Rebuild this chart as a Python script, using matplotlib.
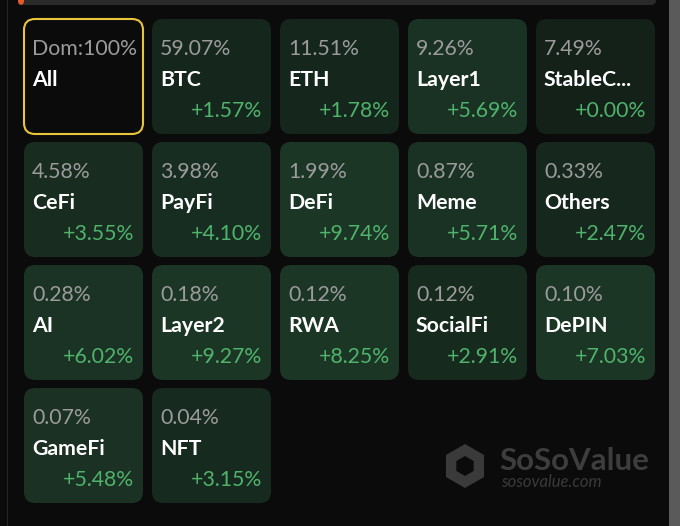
import matplotlib.pyplot as plt
from matplotlib.patches import FancyBboxPatch, Rectangle, RegularPolygon
import numpy as np

# sector dominance tiles
names = ["All", "BTC", "ETH", "Layer1", "StableC...",
         "CeFi", "PayFi", "DeFi", "Meme", "Others",
         "AI", "Layer2", "RWA", "SocialFi", "DePIN",
         "GameFi", "NFT"]
dominance = [100, 59.07, 11.51, 9.26, 7.49,
             4.58, 3.98, 1.99, 0.87, 0.33,
             0.28, 0.18, 0.12, 0.12, 0.10,
             0.07, 0.04]
changes = [None, 1.57, 1.78, 5.69, 0.00,
           3.55, 4.10, 9.74, 5.71, 2.47,
           6.02, 9.27, 8.25, 2.91, 7.03,
           5.48, 3.15]

plt.rcParams['font.family'] = ['Lato', 'DejaVu Sans']

BG = "#0b0b0b"
fig = plt.figure(figsize=(6.8, 5.26), dpi=100, facecolor=BG)
ax = fig.add_axes([0, 0, 1, 1])
ax.set_xlim(0, 680)
ax.set_ylim(526, 0)
ax.axis("off")
ax.set_facecolor(BG)

# frame bits around the panel
ax.add_patch(Rectangle((7, 0), 1.2, 526, color="#262626", lw=0))
ax.add_patch(Rectangle((669, 0), 11, 526, color="#5a5a5a", lw=0))
ax.add_patch(FancyBboxPatch((18, -10), 638, 15, boxstyle="round,pad=0,rounding_size=5",
                            fc="#2a2a2a", ec="none"))
ax.add_patch(FancyBboxPatch((18, -10), 6, 15, boxstyle="round,pad=0,rounding_size=4",
                            fc="#e8572a", ec="none"))

lo = np.array([0x13, 0x21, 0x19]) / 255
hi = np.array([0x1c, 0x36, 0x26]) / 255

x0, y0 = 24, 19
pitch_x, pitch_y = 128, 123
w, h = 119, 115
fs = 15.3

for i, name in enumerate(names):
    r, c = divmod(i, 5)
    left = x0 + c * pitch_x
    top = y0 + r * pitch_y
    chg = changes[i]
    if chg is None:
        fc, ec, lw = BG, "#e9c53b", 1.5
    else:
        t = min(chg / 7, 1)
        fc, ec, lw = tuple(lo + (hi - lo) * t), "none", 0
    ax.add_patch(FancyBboxPatch((left, top), w, h,
                                boxstyle="round,pad=0,rounding_size=11",
                                fc=fc, ec=ec, lw=lw))
    dom_txt = f"Dom:{dominance[i]:.0f}%" if chg is None else f"{dominance[i]:.2f}%"
    ax.text(left + 8, top + 30, dom_txt, color="#9b9b9b", fontsize=fs,
            ha="left", va="center")
    ax.text(left + 8, top + 61, name, color="white", fontsize=fs,
            fontweight="bold", ha="left", va="center")
    if chg is not None:
        ax.text(left + w - 9, top + 92, f"+{chg:.2f}%", color="#4fb36c",
                fontsize=fs, ha="right", va="center")

# watermark
ax.add_patch(RegularPolygon((465, 466), 6, radius=22, orientation=0,
                            fc="#3a3a3a", ec="none"))
ax.add_patch(RegularPolygon((465, 466), 6, radius=10, orientation=0,
                            fc=BG, ec="none"))
ax.text(499, 461, "SoSoValue", color="#3d3d3d", fontsize=22.5, fontweight="bold",
        ha="left", va="center")
ax.text(501, 482, "sosovalue.com", color="#3a3a3a", fontsize=12, style="italic",
        ha="left", va="center")

fig.savefig("out.png", dpi=100, facecolor=BG)
